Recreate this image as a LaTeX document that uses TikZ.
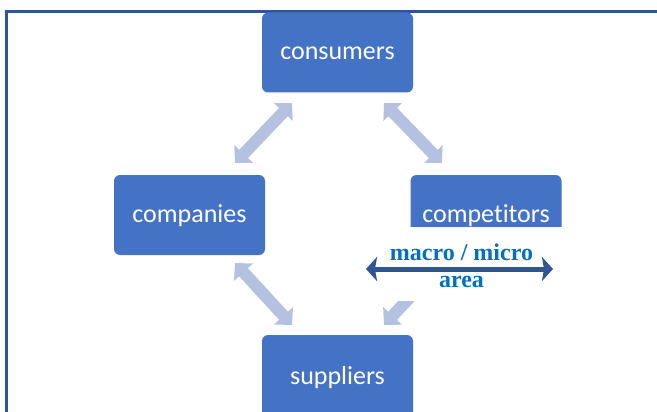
\documentclass[tikz,border=0pt]{standalone}
\usepackage{fontspec}
\setmainfont{Liberation Serif}
\newfontfamily\boxfont[Ligatures={NoCommon}]{Carlito}
\usetikzlibrary{arrows.meta}
\definecolor{boxblue}{HTML}{4472C4}
\definecolor{lightarrow}{HTML}{B4C1E1}
\definecolor{darkarrow}{HTML}{2F5597}
\definecolor{labelblue}{HTML}{0070C0}
\begin{document}
\begin{tikzpicture}[x=1pt,y=-1pt,
  box/.style={fill=boxblue, rounded corners=6pt, minimum width=151pt, minimum height=80pt,
    inner sep=0pt, text=white, text height=19pt, text depth=4pt,
    font=\boxfont\fontsize{26}{30}\selectfont},
  cycarrow/.style={draw=lightarrow, line width=12pt,
    {Triangle[width=25pt,length=12.5pt,fill=lightarrow]}-{Triangle[width=25pt,length=12.5pt,fill=lightarrow]}},
  macroarrow/.style={draw=darkarrow, line width=5pt,
    {Stealth[width=24pt,length=11pt,inset=2pt,fill=darkarrow]}-{Stealth[width=24pt,length=11pt,inset=2pt,fill=darkarrow]}},
  frameline/.style={draw=darkarrow, line width=2.5pt},
  lbl/.style={text=labelblue, font=\bfseries\fontsize{24}{27}\selectfont, align=center, inner sep=0pt}
]
\useasboundingbox (0,0) rectangle (657,412);
\begin{scope}
\clip (0,0) rectangle (657,412);
% frame
\coordinate (fb) at (6.5,412);
\coordinate (fc) at (6.5,11.5);
\coordinate (fr) at (660,11.5);
\draw[frameline] (fb) -- (fc) -- (fr);

% boxes
\node[box] (consumers) at (337.5,52.5) {consumers};
\node[box] (companies) at (189.5,215) {companies};
\node[box] (competitors) at (486,215) {competitors};
\node[box, minimum height=83pt] (suppliers) at (337.5,376.5) {suppliers};

% cycle arrows
\coordinate (a1) at (235,163); \coordinate (b1) at (292,103);
\coordinate (a2) at (384,103); \coordinate (b2) at (442,163);
\coordinate (a3) at (235,263); \coordinate (b3) at (292,325);
\coordinate (a4) at (442,263); \coordinate (b4) at (384,325);
\draw[cycarrow] (a1) -- (b1);
\draw[cycarrow] (a2) -- (b2);
\draw[cycarrow] (a3) -- (b3);
\draw[cycarrow] (a4) -- (b4);

% white label area
\fill[white] (350,227) rectangle (580,301);

% macro / micro arrow
\coordinate (mL) at (366,269);
\coordinate (mR) at (553,269);
\draw[macroarrow] (mL) -- (mR);
\node[lbl] (label) at (461.5,266) {macro / micro\\area};
\end{scope}
\end{tikzpicture}
\end{document}
